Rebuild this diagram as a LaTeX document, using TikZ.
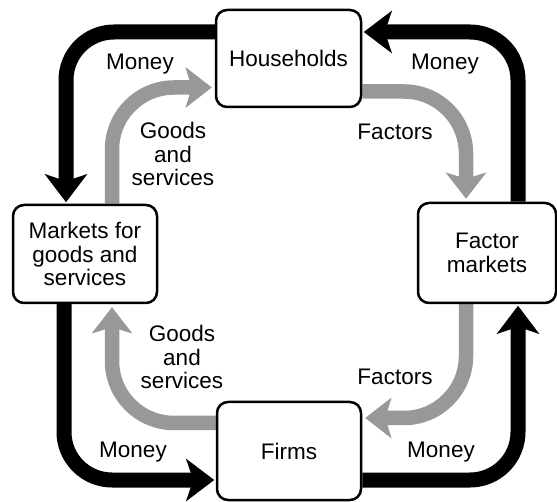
\documentclass[tikz,border=0pt]{standalone}
\usepackage{fontspec}
\setmainfont{Liberation Sans}
\usetikzlibrary{arrows.meta,backgrounds}
\definecolor{flowgray}{RGB}{152,152,152}
\tikzset{
  sector/.style={draw,line width=2.5pt,rounded corners=11pt,fill=white,align=center,inner sep=0pt,
    font=\fontsize{22.5}{23.5}\selectfont},
  flowlabel/.style={align=center,inner sep=0pt,font=\fontsize{22.5}{23.5}\selectfont},
  moneyflow/.style={line width=15pt,rounded corners=48pt,shorten >=1.5pt,
    -{Stealth[length=28pt,width=42pt,inset=7pt]}},
  realflow/.style={flowgray,line width=14.5pt,rounded corners=62pt,shorten >=3pt,
    -{Stealth[length=26pt,width=40pt,inset=6pt]}},
}

\begin{document}
\begin{tikzpicture}[x=1pt,y=-1pt,line join=round,]
  \useasboundingbox (0,0) rectangle (557,502);
  %%
  % Node: households
  \node[sector,minimum width=145pt,minimum height=97pt] (hh) at (288.5,58.5) {Households};
  % Node: goods markets
  \node[sector,minimum width=144pt,minimum height=98pt] (mkt) at (85,254) {Markets for\\goods and\\services};
  % Node: factor markets
  \node[sector,minimum width=138pt,minimum height=100pt] (fac) at (487,253) {Factor\\markets};
  % Node: firms
  \node[sector,minimum width=144pt,minimum height=98pt] (firm) at (289,451) {Firms};
  %%
  \begin{scope}[on background layer]
    % Edge: hh -> mkt (money)
    \draw[moneyflow] ([yshift=26.5pt]hh.west) -| ([xshift=-19pt]mkt.north);
    % Edge: fac -> hh (money)
    \draw[moneyflow] ([xshift=31pt]fac.north) |- ([yshift=26.5pt]hh.east);
    % Edge: mkt -> firm (money)
    \draw[moneyflow] ([xshift=-21pt]mkt.south) |- ([yshift=-29pt]firm.west);
    % Edge: firm -> fac (money)
    \draw[moneyflow] ([yshift=-29pt]firm.east) -| ([xshift=31pt]fac.south);
    % Edge: mkt -> hh (goods)
    \draw[realflow] ([xshift=27pt]mkt.north) |- ([yshift=-29pt]hh.west);
    % Edge: hh -> fac (factors)
    \draw[realflow] ([yshift=-33pt]hh.east) -| ([xshift=-21pt]fac.north);
    % Edge: fac -> firm (factors)
    \draw[realflow] ([xshift=-21pt]fac.south) |- ([yshift=33pt]firm.east);
    % Edge: firm -> mkt (goods)
    \draw[realflow] ([yshift=28pt]firm.west) -| ([xshift=27pt]mkt.south);
  \end{scope}
  %%
  % Labels
  \node[flowlabel] (moneyA) at (140,64) {Money};
  \node[flowlabel] (goodsA) at (173,154) {Goods\\and\\services};
  \node[flowlabel] (moneyB) at (445,64) {Money};
  \node[flowlabel] (factorsA) at (395,132) {Factors};
  \node[flowlabel] (goodsB) at (182,357) {Goods\\and\\services};
  \node[flowlabel] (moneyC) at (133,452) {Money};
  \node[flowlabel] (factorsB) at (395,377) {Factors};
  \node[flowlabel] (moneyD) at (441,452) {Money};
  %
\end{tikzpicture}
\end{document}
